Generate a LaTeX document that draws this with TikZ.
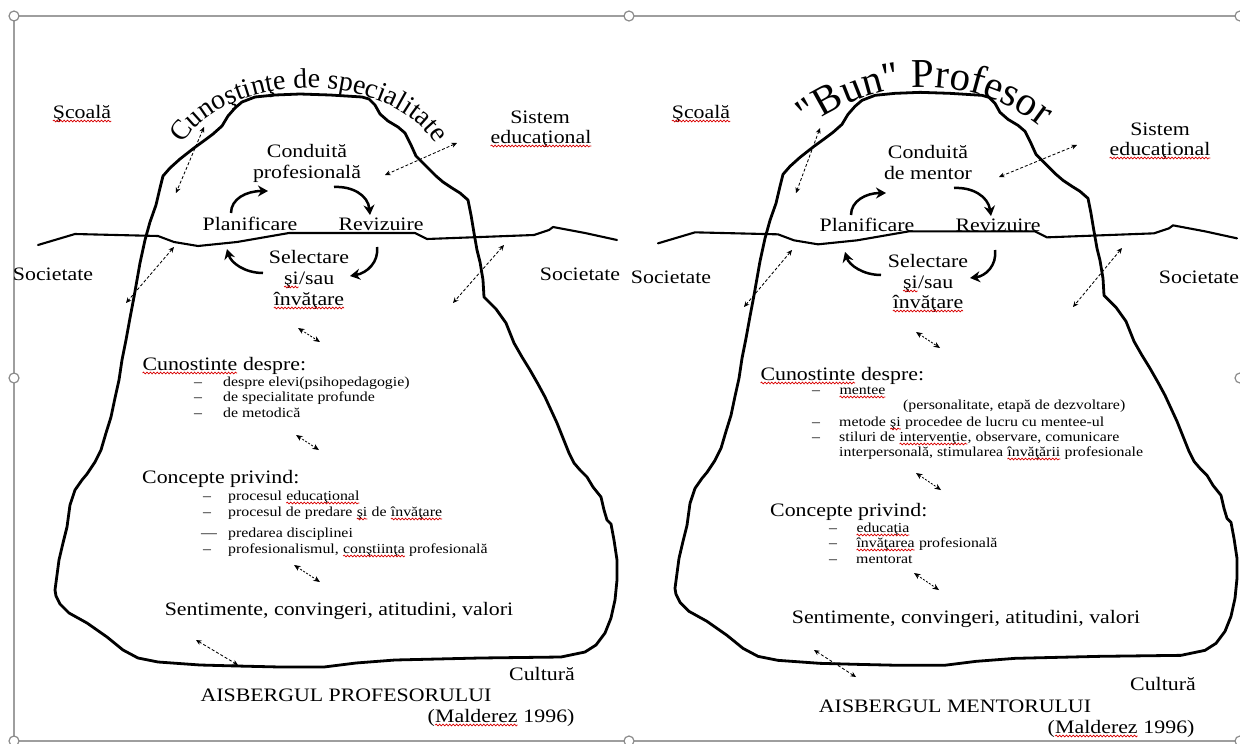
\documentclass[tikz,border=0pt]{standalone}
\usepackage{fontspec}
\setmainfont{Liberation Serif}[FakeStretch=1.15]
\newfontfamily\arcfam{Liberation Serif}
\usetikzlibrary{arrows.meta,decorations.text,decorations.pathmorphing}
\newcommand\wv[1]{\tikz[baseline=(wvw.base)]{\node[inner sep=0pt,outer sep=0pt,anchor=base,draw=none] (wvw) {#1};\draw[red!85!black,line width=0.7pt,decorate,decoration={snake,amplitude=0.9pt,segment length=3.4pt}] ([yshift=-3pt]wvw.base west) -- ([yshift=-3pt]wvw.base east);}}
\newcommand\arcA{\arcfam\fontsize{28}{30}\selectfont}
\newcommand\arcB{\arcfam\fontsize{41}{43}\selectfont}
\tikzset{
  iceberg/.pic={
    \draw[ice] (275,95) -- (300,94) -- (330,95) -- (362,97) -- (369,99) -- (375,105) -- (380,114) -- (388,121) -- (398,127) -- (405,133) -- (411,145) -- (416,156) -- (427,167) -- (436,176) -- (443,182) -- (452,188) -- (460,193) -- (468,200) -- (471,215) -- (474,233) -- (477,250) -- (480,262) -- (483,280) -- (484,297) -- (490,303) -- (496,309) -- (506,323) -- (514,343) -- (522,357) -- (530,370) -- (538,384) -- (545,397) -- (551,410) -- (557,423) -- (563,438) -- (569,453) -- (574,463) -- (580,470) -- (587,477) -- (593,487) -- (601,497) -- (604,510) -- (607,520) -- (611,524) -- (614,540) -- (617,560) -- (617,580) -- (615,600) -- (611,618) -- (605,633) -- (596,645) -- (585,652) -- (561,657) -- (480,658) -- (395,660) -- (356,663) -- (324,667) -- (280,667) -- (237,666) -- (200,665) -- (158,662) -- (138,658) -- (123,650) -- (107,637) -- (87,623) -- (69,613) -- (60,604) -- (56,596) -- (55,590) -- (57,575) -- (59,560) -- (63,543) -- (67,527) -- (70,505) -- (75,490) -- (82,480) -- (87,474) -- (95,462) -- (101,450) -- (106,433) -- (111,417) -- (115,398) -- (119,380) -- (122,360) -- (126,340) -- (130,318) -- (134,297) -- (137,280) -- (140,263) -- (145,240) -- (150,222) -- (156,205) -- (160,188) -- (163,176) -- (170,168) -- (180,159) -- (194,148) -- (205,140) -- (213,134) -- (222,126) -- (228,116) -- (235,108) -- (242,102) -- (255,97) -- cycle;
    \draw[water] (38,245) -- (75,234) -- (158,236) -- (174,242) -- (198,246) -- (237,242) -- (289,233) -- (415,233) -- (427,239) -- (534,235) -- (549,230) -- (553,227) -- (585,233) -- (617,240);
  }
}
\begin{document}
\begin{tikzpicture}[x=1pt,y=-1pt,
  lab/.style={inner sep=0pt, anchor=base, font=\fontsize{19}{21}\selectfont},
  labw/.style={lab, anchor=base west},
  item/.style={inner sep=0pt, anchor=base west, font=\fontsize{13.8}{15.9}\selectfont},
  ice/.style={line width=2.8pt, line join=round, line cap=round},
  water/.style={line width=2.1pt, line join=round, line cap=round},
  cyc/.style={line width=2.5pt, -{Stealth[length=10pt,width=11pt]}},
  dsh/.style={line width=0.85pt, dash pattern=on 3pt off 2pt, {Stealth[length=5.5pt,width=5pt]}-{Stealth[length=5.5pt,width=5pt]}},
  sm/.style={line width=0.85pt, dash pattern=on 2pt off 1.5pt, {Stealth[length=6.5pt,width=5.5pt]}-{Stealth[length=6.5pt,width=5.5pt]}},
  frame/.style={draw=black!38, line width=1.2pt},
  handle/.style={circle, draw=black!45, fill=white, line width=1.2pt, minimum size=10pt, inner sep=0pt},
]
\useasboundingbox (0,0) rectangle (1240,744);
\fill[white] (0,0) rectangle (1240,744);

% selection frame
\draw[frame] (14,16) -- (1240,16);
\draw[frame] (14,16) -- (14,741) -- (1240,741);
\node[handle] (h1) at (14,16) {};
\node[handle] (h2) at (629,16) {};
\node[handle] (h3) at (1240,16) {};
\node[handle] (h4) at (14,378) {};
\node[handle] (h5) at (1240,378) {};
\node[handle] (h6) at (14,741) {};
\node[handle] (h7) at (629,741) {};
\node[handle] (h8) at (1240,741) {};

% icebergs
\pic {iceberg};
\begin{scope}[shift={(620,-1.66)}, yscale=1.0175]
\pic {iceberg};
\end{scope}

% arched titles
\path[decorate, decoration={text along path, text align=center, text={|\arcA|Cunoştinţe de specialitate}}]
  (179.9,149.6) arc[start angle=-163, end angle=-17, x radius=135, y radius=87];
\path[decorate, decoration={text along path, text align=center, text={|\arcB|"Bun" Profesor}}]
  (799.2,135.3) arc[start angle=-132, end angle=-48, radius=188];

% ---------- left panel text ----------
\node[lab] (scoL) at (82,118) {\wv{Şcoală}};
\node[lab] (sisL1) at (540,123) {Sistem};
\node[lab] (sisL2) at (541,143) {\wv{educaţional}};
\node[lab] (conL1) at (307,157) {Conduită};
\node[lab] (conL2) at (307,178) {profesională};
\node[lab] (plaL) at (250,230) {Planificare};
\node[lab] (revL) at (381,230) {Revizuire};
\node[lab] (selL1) at (309,263) {Selectare};
\node[lab] (selL2) at (309,284) {\wv{şi}/sau};
\node[lab] (selL3) at (309,305) {\wv{învăţare}};
\node[lab] (socL1) at (53,280) {Societate};
\node[lab] (socL2) at (580,280) {Societate};
\node[labw] (cunL) at (142,370) {\wv{Cunostinte} despre:};
\node[item] (cdL1) at (194,386) {–};
\node[item] (ciL1) at (223,386) {despre elevi(psihopedagogie)};
\node[item] (cdL2) at (194,401) {–};
\node[item] (ciL2) at (223,401) {de specialitate profunde};
\node[item] (cdL3) at (194,417) {–};
\node[item] (ciL3) at (223,417) {de metodică};
\node[labw] (conpL) at (142,483) {Concepte privind:};
\node[item] (pdL1) at (203,500) {–};
\node[item] (piL1) at (228,500) {procesul \wv{educaţional}};
\node[item] (pdL2) at (203,516) {–};
\node[item] (piL2) at (228,516) {procesul de predare \wv{şi} de \wv{învăţare}};
\node[item] (pdL3) at (201,537) {—};
\node[item] (piL3) at (228,537) {predarea disciplinei};
\node[item] (pdL4) at (203,553) {–};
\node[item] (piL4) at (228,553) {profesionalismul, \wv{conştiinţa} profesională};
\node[lab] (senL) at (339,615) {Sentimente, convingeri, atitudini, valori};
\node[lab] (culL) at (542,680) {Cultură};
\node[lab] (aisL) at (346,701) {AISBERGUL PROFESORULUI};
\node[lab] (malL) at (501,722) {(\wv{Malderez} 1996)};

% ---------- right panel text ----------
\node[lab] (scoR) at (701,118) {\wv{Şcoală}};
\node[lab] (sisR1) at (1160,135) {Sistem};
\node[lab] (sisR2) at (1160,155) {\wv{educaţional}};
\node[lab] (conR1) at (928,158) {Conduită};
\node[lab] (conR2) at (928,179) {de mentor};
\node[lab] (plaR) at (867,231) {Planificare};
\node[lab] (revR) at (998,231) {Revizuire};
\node[lab] (selR1) at (928,267) {Selectare};
\node[lab] (selR2) at (928,288) {\wv{şi}/sau};
\node[lab] (selR3) at (928,308) {\wv{învăţare}};
\node[lab] (socR1) at (671,283) {Societate};
\node[lab] (socR2) at (1199,283) {Societate};
\node[labw] (cunR) at (760,380) {\wv{Cunostinte} despre:};
\node[item] (cdR1) at (812,394) {–};
\node[item] (ciR1) at (839,394) {\wv{mentee}};
\node[item] (ciR2) at (903,409) {(personalitate, etapă de dezvoltare)};
\node[item] (cdR3) at (812,426) {–};
\node[item] (ciR3) at (839,426) {metode \wv{şi} procedee de lucru cu mentee-ul};
\node[item] (cdR4) at (812,441) {–};
\node[item] (ciR4) at (839,441) {stiluri de \wv{intervenţie}, observare, comunicare};
\node[item] (ciR5) at (839,456) {interpersonală, stimularea \wv{învăţării} profesionale};
\node[labw] (conpR) at (770,516) {Concepte privind:};
\node[item] (pdR1) at (829,532) {–};
\node[item] (piR1) at (856,532) {\wv{educaţia}};
\node[item] (pdR2) at (829,547) {–};
\node[item] (piR2) at (856,547) {\wv{învăţarea} profesională};
\node[item] (pdR3) at (829,563) {–};
\node[item] (piR3) at (856,563) {mentorat};
\node[lab] (senR) at (966,623) {Sentimente, convingeri, atitudini, valori};
\node[lab] (culR) at (1163,690) {Cultură};
\node[lab] (aisR) at (955,712) {AISBERGUL MENTORULUI};
\node[lab] (malR) at (1121,733) {(\wv{Malderez} 1996)};

% ---------- cycle arrows ----------
\coordinate (aL1s) at (231,213); \coordinate (aL1e) at (268,191);
\coordinate (aL2s) at (334,187); \coordinate (aL2e) at (370,215);
\coordinate (aL3s) at (263,273); \coordinate (aL3e) at (227,249);
\coordinate (aL4s) at (377,247); \coordinate (aL4e) at (350,276);
\draw[cyc] (aL1s) .. controls (231,199) and (246,191) .. (aL1e);
\draw[cyc] (aL2s) .. controls (352,186) and (368,195) .. (aL2e);
\draw[cyc] (aL3s) .. controls (245,273) and (231,263) .. (aL3e);
\draw[cyc] (aL4s) .. controls (379,262) and (367,273) .. (aL4e);
\coordinate (aR1s) at (851,215); \coordinate (aR1e) at (886,193);
\coordinate (aR2s) at (954,188); \coordinate (aR2e) at (991,216);
\coordinate (aR3s) at (881,275); \coordinate (aR3e) at (845,252);
\coordinate (aR4s) at (995,250); \coordinate (aR4e) at (970,278);
\draw[cyc] (aR1s) .. controls (851,201) and (866,193) .. (aR1e);
\draw[cyc] (aR2s) .. controls (972,187) and (988,196) .. (aR2e);
\draw[cyc] (aR3s) .. controls (863,275) and (849,265) .. (aR3e);
\draw[cyc] (aR4s) .. controls (997,265) and (986,276) .. (aR4e);

% ---------- dashed arrows ----------
\coordinate (dL1a) at (204,127); \coordinate (dL1b) at (176,193);
\coordinate (dL2a) at (457,143); \coordinate (dL2b) at (385,175);
\coordinate (dL3a) at (174,247); \coordinate (dL3b) at (126,303);
\coordinate (dL4a) at (504,245); \coordinate (dL4b) at (453,303);
\coordinate (dL5a) at (196,640); \coordinate (dL5b) at (238,665);
\draw[dsh] (dL1a) -- (dL1b);
\draw[dsh] (dL2a) -- (dL2b);
\draw[dsh] (dL3a) -- (dL3b);
\draw[dsh] (dL4a) -- (dL4b);
\draw[dsh] (dL5a) -- (dL5b);
\coordinate (dR1a) at (820,128); \coordinate (dR1b) at (796,193);
\coordinate (dR2a) at (1077,145); \coordinate (dR2b) at (999,177);
\coordinate (dR3a) at (792,250); \coordinate (dR3b) at (744,307);
\coordinate (dR4a) at (1122,248); \coordinate (dR4b) at (1073,307);
\coordinate (dR5a) at (814,650); \coordinate (dR5b) at (856,677);
\draw[dsh] (dR1a) -- (dR1b);
\draw[dsh] (dR2a) -- (dR2b);
\draw[dsh] (dR3a) -- (dR3b);
\draw[dsh] (dR4a) -- (dR4b);
\draw[dsh] (dR5a) -- (dR5b);

% ---------- small double arrows ----------
\coordinate (sL1a) at (298,328); \coordinate (sL1b) at (320,342);
\coordinate (sL2a) at (296,435); \coordinate (sL2b) at (319,450);
\coordinate (sL3a) at (294,565); \coordinate (sL3b) at (320,582);
\draw[sm] (sL1a) -- (sL1b);
\draw[sm] (sL2a) -- (sL2b);
\draw[sm] (sL3a) -- (sL3b);
\coordinate (sR1a) at (916,332); \coordinate (sR1b) at (940,348);
\coordinate (sR2a) at (916,473); \coordinate (sR2b) at (941,490);
\coordinate (sR3a) at (914,573); \coordinate (sR3b) at (939,590);
\draw[sm] (sR1a) -- (sR1b);
\draw[sm] (sR2a) -- (sR2b);
\draw[sm] (sR3a) -- (sR3b);
\end{tikzpicture}
\end{document}
